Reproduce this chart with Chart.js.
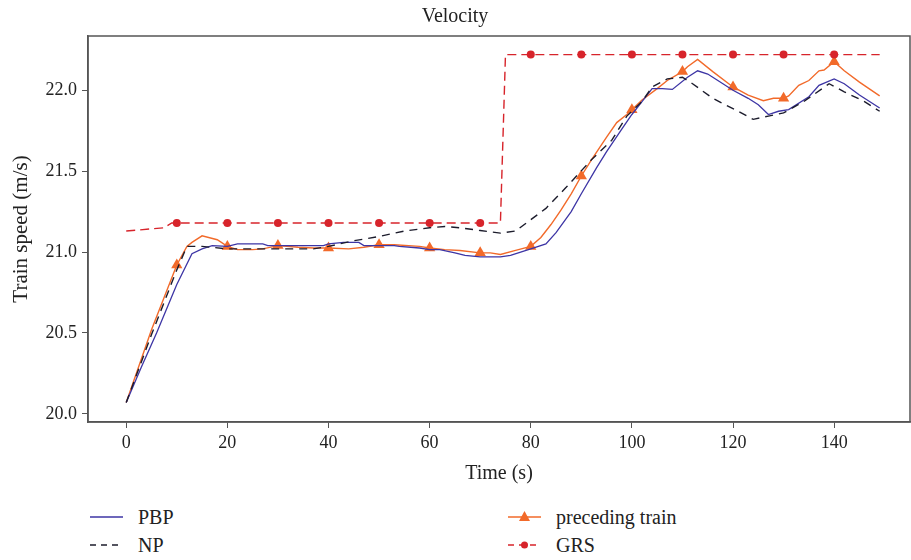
<!DOCTYPE html>
<html lang="en">
<head>
    <meta charset="UTF-8">
    <title>Velocity</title>
    <script src="https://cdn.jsdelivr.net/npm/chart.js"></script>
    <style>
        body {
            margin: 0;
            background: #ffffff;
            font-family: "Liberation Serif", "DejaVu Serif", serif;
            color: #222;
        }
        .wrap {
            position: relative;
            width: 911px;
            height: 560px;
        }
        #velocityChart {
            position: absolute;
            left: 0;
            top: 0;
        }
        .legend-item {
            position: absolute;
            display: flex;
            align-items: center;
            font-size: 20px;
            line-height: 20px;
        }
        .legend-item svg {
            margin-right: 14px;
        }
    </style>
</head>
<body>
    <div class="wrap">
        <canvas id="velocityChart" width="911" height="490"></canvas>

        <div class="legend-item" style="left: 90px; top: 507px;">
            <svg width="34" height="14"><line x1="0" y1="7" x2="33" y2="7" stroke="#3d35a5" stroke-width="1.6"/></svg>PBP
        </div>
        <div class="legend-item" style="left: 90px; top: 535px;">
            <svg width="34" height="14"><line x1="0" y1="7" x2="33" y2="7" stroke="#1c1c2c" stroke-width="1.6" stroke-dasharray="6 5"/></svg>NP
        </div>
        <div class="legend-item" style="left: 508px; top: 507px;">
            <svg width="34" height="14"><line x1="0" y1="7" x2="33" y2="7" stroke="#f26a2a" stroke-width="1.6"/><polygon points="16.5,1 22,11 11,11" fill="#f26a2a"/></svg>preceding train
        </div>
        <div class="legend-item" style="left: 508px; top: 535px;">
            <svg width="34" height="14"><line x1="0" y1="7" x2="33" y2="7" stroke="#d7242b" stroke-width="1.6" stroke-dasharray="6 5"/><circle cx="16.5" cy="7" r="3.5" fill="#d7242b"/></svg>GRS
        </div>
    </div>

    <script>
        // tick labels
        const xTicks = [0, 20, 40, 60, 80, 100, 120, 140];
        const yTicks = [20.0, 20.5, 21.0, 21.5, 22.0];

        // PBP
        const pbpTime = [0, 3, 6, 10, 13, 15, 17, 20, 22, 27, 28, 39, 40, 43, 46, 47, 53, 54, 58, 60, 62, 65, 67, 70, 74, 76, 78, 80, 83, 85, 88, 90, 93, 95, 98, 100, 102, 104, 106, 108, 111, 113, 115, 117, 120, 123, 125, 127, 129, 131, 135, 137, 140, 142, 145, 149];
        const pbpSpeed = [20.07, 20.29, 20.50, 20.80, 20.99, 21.02, 21.04, 21.035, 21.05, 21.05, 21.04, 21.04, 21.05, 21.06, 21.06, 21.04, 21.04, 21.035, 21.025, 21.015, 21.015, 20.995, 20.98, 20.97, 20.97, 20.98, 21.0, 21.02, 21.05, 21.12, 21.25, 21.36, 21.52, 21.62, 21.76, 21.85, 21.93, 22.01, 22.01, 22.005, 22.08, 22.12, 22.10, 22.06, 22.00, 21.95, 21.91, 21.85, 21.87, 21.88, 21.96, 22.03, 22.07, 22.04, 21.97, 21.89];

        // NP
        const npTime = [0, 5, 10, 12, 15, 20, 30, 37, 40, 45, 50, 55, 60, 63, 66, 70, 74, 77, 80, 83, 87, 92, 96, 99, 102, 104, 107, 110, 112, 116, 121, 124, 127, 130, 134, 139, 142, 146, 149];
        const npSpeed = [20.07, 20.49, 20.89, 21.035, 21.035, 21.02, 21.02, 21.02, 21.035, 21.07, 21.096, 21.13, 21.15, 21.158, 21.15, 21.133, 21.117, 21.13, 21.20, 21.27, 21.40, 21.57, 21.69, 21.84, 21.93, 22.02, 22.07, 22.08, 22.04, 21.95, 21.87, 21.82, 21.84, 21.86, 21.93, 22.04, 21.99, 21.93, 21.87];

        // preceding train
        const precTime = [0, 5, 10, 12, 13, 15, 18, 20, 22, 25, 27, 30, 34, 37, 40, 44, 47, 50, 53, 58, 60, 63, 66, 70, 72, 74, 77, 80, 82, 84, 86, 88, 90, 92, 95, 97, 99, 100, 102, 105, 107, 110, 111, 113, 116, 120, 123, 126, 128, 130, 131, 133, 135, 137, 138, 140, 142, 145, 149];
        const precSpeed = [20.07, 20.52, 20.92, 21.035, 21.06, 21.10, 21.076, 21.035, 21.015, 21.015, 21.02, 21.04, 21.03, 21.025, 21.025, 21.02, 21.03, 21.045, 21.045, 21.035, 21.025, 21.015, 21.01, 20.995, 20.995, 20.985, 21.01, 21.035, 21.09, 21.17, 21.26, 21.36, 21.47, 21.57, 21.71, 21.80, 21.85, 21.88, 21.94, 22.01, 22.06, 22.115, 22.145, 22.19, 22.115, 22.02, 21.97, 21.935, 21.95, 21.95, 21.965, 22.03, 22.06, 22.12, 22.125, 22.176, 22.12, 22.05, 21.965];

        // GRS
        const grsTime = [0, 7.5, 9, 10, 20, 30, 40, 50, 60, 70, 74, 75, 80, 90, 100, 110, 120, 130, 140, 149];
        const grsSpeed = [21.13, 21.15, 21.18, 21.18, 21.18, 21.18, 21.18, 21.18, 21.18, 21.18, 21.18, 22.22, 22.22, 22.22, 22.22, 22.22, 22.22, 22.22, 22.22, 22.22];

        function toPoints(xs, ys) {
            return xs.map((x, i) => ({ x: x, y: ys[i] }));
        }

        // markers only every 10 s
        function markerSize(size) {
            return ctx => (ctx.raw && ctx.raw.x > 0 && ctx.raw.x % 10 === 0) ? size : 0;
        }

        const frame = {
            id: 'frame',
            afterDraw(chart) {
                const a = chart.chartArea;
                const c = chart.ctx;
                c.save();
                c.strokeStyle = '#555';
                c.lineWidth = 1.5;
                c.strokeRect(a.left, a.top, a.right - a.left, a.bottom - a.top);
                c.restore();
            }
        };

        const font = '"Liberation Serif", "DejaVu Serif", serif';

        new Chart(document.getElementById('velocityChart').getContext('2d'), {
            type: 'line',
            data: {
                datasets: [
                    {
                        label: 'GRS',
                        data: toPoints(grsTime, grsSpeed),
                        borderColor: '#d7242b',
                        backgroundColor: '#d7242b',
                        borderWidth: 1.4,
                        borderDash: [9, 5],
                        pointRadius: markerSize(4),
                        pointStyle: 'circle',
                        pointBorderWidth: 0
                    },
                    {
                        label: 'NP',
                        data: toPoints(npTime, npSpeed),
                        borderColor: '#1c1c2c',
                        borderWidth: 1.4,
                        borderDash: [8, 6],
                        pointRadius: 0
                    },
                    {
                        label: 'PBP',
                        data: toPoints(pbpTime, pbpSpeed),
                        borderColor: '#3d35a5',
                        borderWidth: 1.3,
                        pointRadius: 0
                    },
                    {
                        label: 'preceding train',
                        data: toPoints(precTime, precSpeed),
                        borderColor: '#f26a2a',
                        backgroundColor: '#f26a2a',
                        borderWidth: 1.4,
                        pointRadius: markerSize(6.5),
                        pointStyle: 'triangle',
                        pointBorderWidth: 0
                    }
                ]
            },
            options: {
                responsive: false,
                animation: false,
                devicePixelRatio: 1,
                layout: { padding: { top: 0, right: 1, left: 0, bottom: 0 } },
                plugins: {
                    legend: { display: false },
                    tooltip: { enabled: false },
                    title: {
                        display: true,
                        text: 'Velocity',
                        color: '#222',
                        font: { family: font, size: 20, weight: 'normal' },
                        padding: { top: 5, bottom: 7 }
                    }
                },
                scales: {
                    x: {
                        type: 'linear',
                        min: -7.56,
                        max: 155,
                        afterBuildTicks: s => { s.ticks = xTicks.map(v => ({ value: v })); },
                        afterFit: s => { s.height = 68; },
                        ticks: { color: '#222', font: { family: font, size: 18 }, padding: 4, maxRotation: 0 },
                        grid: { drawOnChartArea: false, tickLength: 6, color: '#555' },
                        border: { color: '#555', width: 1.5 },
                        title: { display: true, text: 'Time (s)', color: '#222', font: { family: font, size: 20 }, padding: { top: 4, bottom: 4 } }
                    },
                    y: {
                        type: 'linear',
                        min: 19.95,
                        max: 22.335,
                        afterBuildTicks: s => { s.ticks = yTicks.map(v => ({ value: v })); },
                        afterFit: s => { s.width = 88; },
                        ticks: { color: '#222', font: { family: font, size: 18 }, padding: 5, callback: v => v.toFixed(1) },
                        grid: { drawOnChartArea: false, tickLength: 6, color: '#555' },
                        border: { color: '#555', width: 1.5 },
                        title: { display: true, text: 'Train speed (m/s)', color: '#222', font: { family: font, size: 21 }, padding: { top: 9, bottom: 4 } }
                    }
                }
            },
            plugins: [frame]
        });
    </script>
</body>
</html>
